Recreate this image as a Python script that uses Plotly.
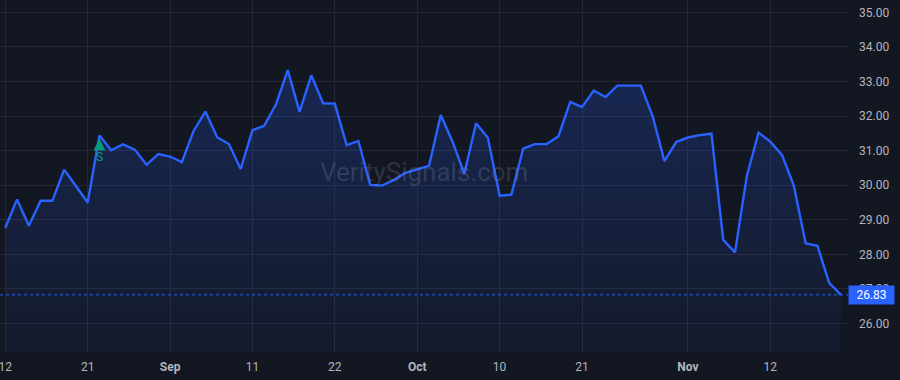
import pandas as pd
import plotly.graph_objects as go

# ---- data ----
dates = [d.strftime("%Y-%m-%d") for d in pd.bdate_range("2025-08-12", "2025-11-20")
         if d.strftime("%Y-%m-%d") != "2025-09-01"]
values = [28.77, 29.59, 28.83, 29.55, 29.55, 30.45, 29.98, 29.50, 31.44, 31.01,
          31.18, 31.03, 30.59, 30.90, 30.83, 30.67, 31.57, 32.13, 31.39, 31.19,
          30.47, 31.59, 31.72, 32.34, 33.33, 32.12, 33.18, 32.37, 32.36, 31.16,
          31.28, 30.01, 29.99, 30.15, 30.36, 30.47, 30.56, 32.03, 31.26, 30.33,
          31.79, 31.37, 29.70, 29.73, 31.06, 31.19, 31.19, 31.42, 32.41, 32.26,
          32.74, 32.55, 32.88, 32.88, 32.88, 32.00, 30.70, 31.25, 31.38, 31.45,
          31.49, 28.42, 28.06, 30.26, 31.52, 31.26, 30.87, 29.98, 28.32, 28.25,
          27.18, 26.83]
tick_dates = ["2025-08-12", "2025-08-21", "2025-09-02", "2025-09-11", "2025-09-22",
              "2025-10-01", "2025-10-10", "2025-10-21", "2025-11-03", "2025-11-12"]
tick_labels = ["12", "21", "<b>Sep</b>", "11", "22", "<b>Oct</b>", "10", "21",
               "<b>Nov</b>", "12"]
y_ticks = [26, 27, 28, 29, 30, 31, 32, 33, 34, 35]
signal_date = "2025-08-22"
signal_label = "S"
watermark = "VeritySignals.com"

Y_MIN, Y_MAX = 25.178, 35.356
BG = "#131722"
TXT = "#b2b5be"
GRID = "#242834"
LINE = "#2962ff"
FONT = "Roboto"

last_val = values[-1]
sig_val = values[dates.index(signal_date)]

fig = go.Figure()
fig.add_trace(go.Scatter(
    x=dates, y=values, mode="lines",
    line=dict(color=LINE, width=2.4),
    fill="tozeroy",
    fillgradient=dict(type="vertical", start=Y_MIN, stop=max(values),
                      colorscale=[[0, "rgba(41,98,255,0.04)"], [1, "rgba(41,98,255,0.22)"]]),
    hoverinfo="skip", showlegend=False,
))

# last value dotted line
fig.add_shape(type="line", xref="paper", x0=0, x1=1, yref="y", y0=last_val, y1=last_val,
              line=dict(color=LINE, width=1, dash="dot"))

# last value label box
fig.add_annotation(xref="paper", x=1, xanchor="left", xshift=0, yref="y", y=last_val,
                   text=f"{last_val:.2f}", showarrow=False,
                   font=dict(family=FONT, size=12, color="#ffffff"),
                   bgcolor=LINE, borderpad=2, width=41, align="center")

# signal marker
fig.add_annotation(x=signal_date, y=sig_val, xref="x", yref="y",
                   text=signal_label, showarrow=True, arrowhead=2, arrowsize=0.8,
                   arrowwidth=3, arrowcolor="#089981", ax=0, ay=22, standoff=3,
                   font=dict(family=FONT, size=12, color="#089981"))

# watermark
fig.add_annotation(xref="paper", yref="paper", x=0.5, y=0.51, text=watermark,
                   showarrow=False, font=dict(family=FONT, size=26,
                                              color="rgba(150,156,175,0.22)"))

fig.update_layout(
    width=900, height=380, autosize=False,
    margin=dict(l=0, r=52, t=0, b=28),
    paper_bgcolor=BG, plot_bgcolor=BG,
    font=dict(family=FONT, size=12, color=TXT),
    xaxis=dict(type="category", range=[-0.45, 71.6], tickmode="array",
               tickvals=tick_dates, ticktext=tick_labels, showgrid=True,
               gridcolor=GRID, gridwidth=1, zeroline=False, showline=False,
               ticks="", ticklabelstandoff=6, tickfont=dict(color=TXT, size=12)),
    yaxis=dict(side="right", range=[Y_MIN, Y_MAX], tickmode="array",
               tickvals=y_ticks, ticktext=[f"{v:.2f}" for v in y_ticks],
               showgrid=True, gridcolor=GRID, gridwidth=1, zeroline=False,
               showline=False, ticks="", ticklabelstandoff=10,
               tickfont=dict(color=TXT, size=12)),
)

fig.write_html("out.html")
